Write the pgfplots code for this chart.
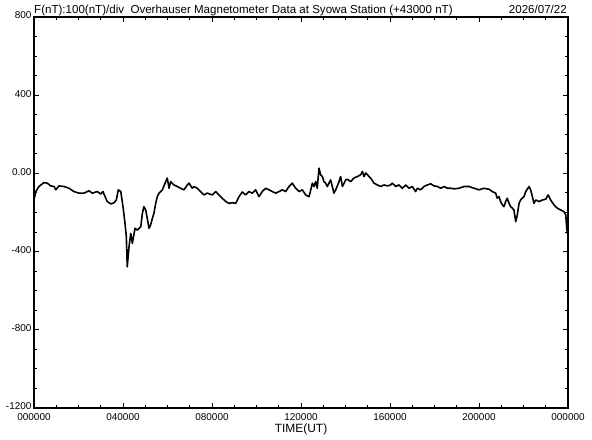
\documentclass[border=0pt]{standalone}
\usepackage{fontspec}
\setmainfont{Liberation Sans}
\usepackage{pgfplots}
\pgfplotsset{compat=1.18}
\begin{document}
\begin{tikzpicture}
\useasboundingbox (0,0) rectangle (592bp,440bp);
\begin{axis}[
  at={(34bp,32bp)}, anchor=south west,
  scale only axis, width=534bp, height=391bp,
  xmin=0, xmax=24, ymin=-1200, ymax=800,
  axis line style={line width=1.3pt},
  xtick={0,4,...,24},
  xticklabels={000000,040000,080000,120000,160000,200000,000000},
  ytick={-1200,-800,...,800},
  yticklabels={-1200,-800,-400,0.00,400,800},
  minor x tick num=3, minor y tick num=3,
  tick align=inside,
  major tick length=5bp, minor tick length=3bp,
  tick style={line width=0.9pt, black},
  ticklabel style={font=\fontsize{10}{12}\selectfont},
  xticklabel style={yshift=-2bp},
  yticklabel style={xshift=1bp, yshift=1.5bp},
  xlabel={TIME(UT)},
  xlabel style={at={(axis description cs:0.5,0)}, anchor=center, yshift=-21bp, font=\fontsize{12}{14}\selectfont},
  clip=false,
]
% Overhauser magnetometer trace, hours UT vs nT offset from 43000
\addplot[black, line width=1.6pt, line join=round] coordinates {
(0.00,-136) (0.08,-93) (0.22,-67) (0.45,-47) (0.60,-50) (0.75,-64) (0.90,-67) (0.98,-84)
(1.12,-64) (1.35,-67) (1.57,-76) (1.80,-93) (2.02,-101) (2.25,-101) (2.47,-89) (2.62,-101)
(2.84,-93) (3.00,-105) (3.10,-93) (3.29,-144) (3.45,-156) (3.60,-150) (3.70,-136) (3.79,-84)
(3.90,-93) (4.00,-170) (4.09,-256) (4.15,-324) (4.19,-478) (4.27,-376) (4.35,-307) (4.42,-358)
(4.54,-281) (4.64,-290) (4.80,-273) (4.87,-204) (4.94,-170) (5.02,-187) (5.09,-230) (5.17,-281)
(5.24,-264) (5.32,-230) (5.39,-204) (5.47,-153) (5.54,-119) (5.62,-101) (5.77,-84) (5.92,-42)
(5.99,-24) (6.07,-76) (6.14,-42) (6.29,-59) (6.44,-67) (6.59,-76) (6.74,-84) (6.89,-59)
(6.97,-50) (7.11,-76) (7.19,-67) (7.34,-76) (7.49,-93) (7.64,-110) (7.79,-101) (8.01,-110)
(8.17,-93) (8.31,-110) (8.46,-127) (8.62,-144) (8.76,-153) (8.91,-150) (9.07,-153) (9.21,-120)
(9.36,-95) (9.51,-110) (9.66,-93) (9.81,-101) (9.96,-84) (10.11,-119) (10.26,-93) (10.41,-76)
(10.56,-84) (10.71,-93) (10.86,-101) (11.01,-93) (11.16,-84) (11.31,-93) (11.46,-67) (11.61,-50)
(11.76,-76) (11.91,-93) (12.06,-84) (12.21,-110) (12.36,-119) (12.44,-84) (12.51,-50) (12.58,-67)
(12.66,-42) (12.73,-76) (12.81,27) (12.88,-7) (12.96,-16) (13.03,-42) (13.11,-50) (13.18,-67)
(13.26,-50) (13.33,-33) (13.48,-101) (13.56,-84) (13.71,-42) (13.78,-16) (13.86,-67) (14.01,-33)
(14.08,-30) (14.23,-42) (14.38,-24) (14.53,-16) (14.68,-7) (14.76,10) (14.83,-16) (14.91,2)
(15.06,-16) (15.13,-24) (15.28,-50) (15.43,-59) (15.58,-67) (15.73,-59) (15.88,-64) (16.03,-59)
(16.10,-50) (16.26,-67) (16.40,-59) (16.55,-76) (16.71,-59) (16.85,-76) (17.00,-67) (17.15,-93)
(17.23,-76) (17.38,-84) (17.53,-67) (17.68,-59) (17.83,-53) (17.98,-64) (18.13,-67) (18.28,-76)
(18.43,-67) (18.58,-76) (18.73,-76) (18.88,-79) (19.10,-76) (19.33,-67) (19.55,-67) (19.78,-76)
(20.00,-84) (20.22,-76) (20.45,-81) (20.60,-93) (20.75,-101) (20.82,-127) (20.90,-119) (20.97,-144)
(21.05,-161) (21.12,-170) (21.20,-144) (21.27,-127) (21.35,-153) (21.42,-170) (21.50,-178) (21.57,-187)
(21.65,-247) (21.72,-213) (21.80,-153) (21.87,-136) (22.02,-119) (22.10,-93) (22.25,-67) (22.32,-84)
(22.40,-119) (22.47,-153) (22.55,-136) (22.70,-144) (22.85,-136) (23.00,-132) (23.11,-110) (23.22,-136)
(23.37,-161) (23.52,-178) (23.67,-187) (23.82,-196) (23.90,-213) (23.93,-264) (23.97,-307) (24.00,-280)
};
\node[anchor=base west, inner sep=0pt, font=\fontsize{11.6}{14}\selectfont]
  at ([yshift=3.5bp]rel axis cs:0,1) {F(nT):100(nT)/div\ \ Overhauser Magnetometer Data at Syowa Station (+43000 nT)};
\node[anchor=base east, inner sep=0pt, font=\fontsize{11.6}{14}\selectfont]
  at ([xshift=-1bp,yshift=3.5bp]rel axis cs:1,1) {2026/07/22};
\end{axis}
\end{tikzpicture}
\end{document}
